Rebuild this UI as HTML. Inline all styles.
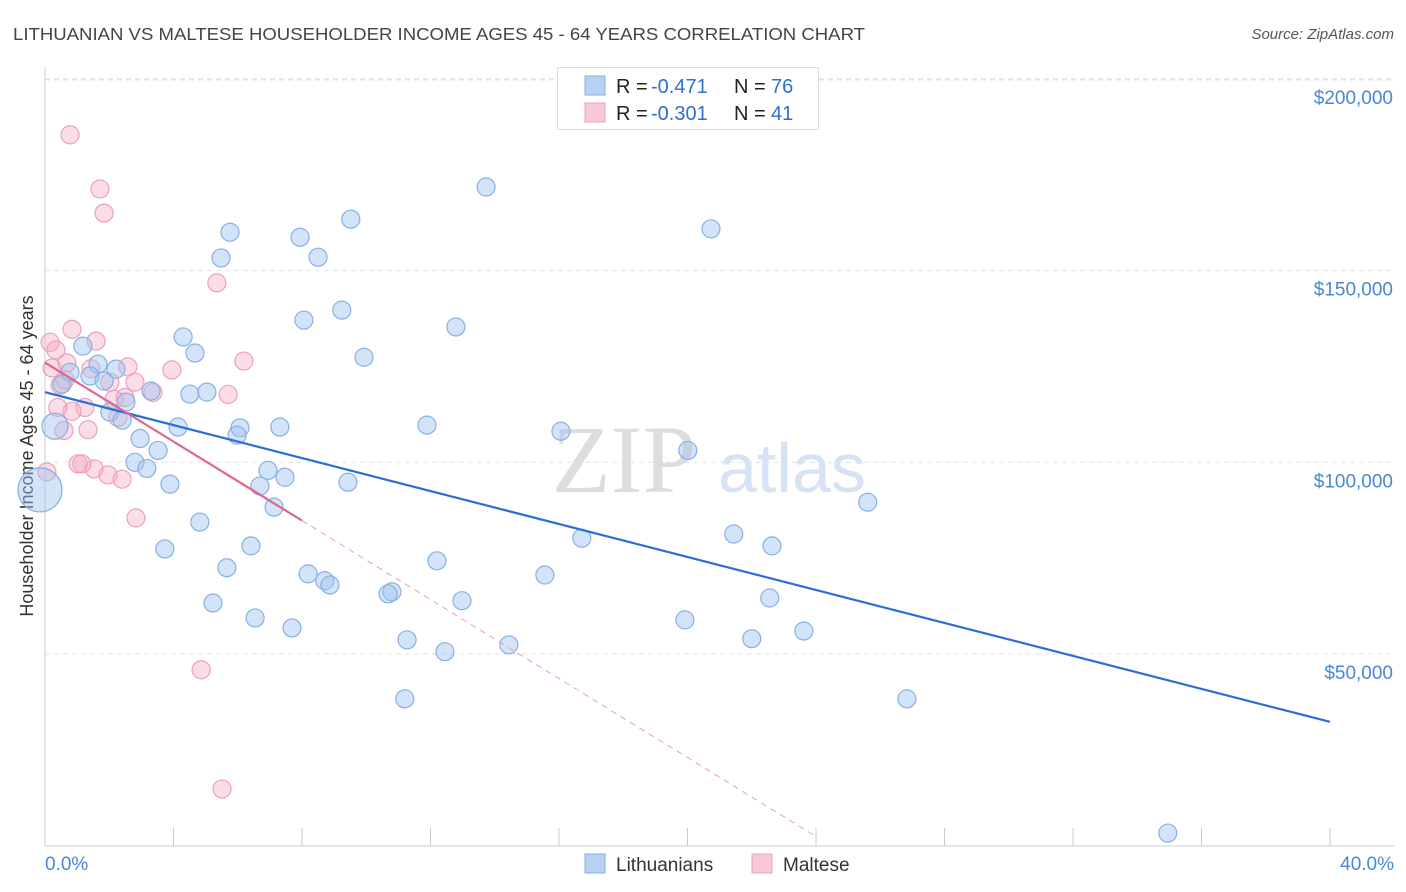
<!DOCTYPE html>
<html><head><meta charset="utf-8"><style>
body{margin:0;background:#fff;font-family:"Liberation Sans",sans-serif}
svg{display:block}
</style></head><body>
<svg id="c" width="1406" height="892"></svg>
<script>
const blueX=[13.73,20.73,9.52,5.76,7.94,8.50,5.48,9.24,8.06,12.79,4.30,9.93,4.67,1.18,1.65,2.21,0.78,1.40,1.84,0.53,3.30,4.51,5.04,2.52,2.02,2.40,4.14,6.07,5.98,7.31,11.89,16.06,0.31,2.96,3.52,20.01,2.80,3.17,6.94,7.47,3.89,6.69,9.43,7.13,25.61,4.82,16.71,21.44,22.63,3.73,6.41,5.66,12.20,8.19,15.56,8.71,8.87,10.80,10.68,22.56,12.98,5.23,6.54,19.92,7.69,23.62,11.27,22.00,14.44,12.45,11.20,26.83,34.95,0];
const blueY=[171.8,160.9,163.4,160.0,158.7,153.5,153.3,139.7,137.1,135.3,132.7,127.4,128.5,130.3,125.6,124.3,123.5,122.5,121.2,120.4,118.6,117.8,118.3,115.7,113.1,111.0,109.2,109.0,107.1,109.2,109.7,108.1,109.4,106.2,103.1,103.1,100.0,98.4,97.9,96.1,94.3,93.8,94.8,88.3,89.6,84.4,80.2,81.3,78.2,77.4,78.2,72.5,74.3,70.9,70.6,69.1,68.0,66.2,65.7,64.6,63.9,63.3,59.4,58.9,56.8,56.0,53.7,54.0,52.4,50.6,38.3,38.3,3.3,92.8];
const pinkX=[0.78,1.71,1.84,5.35,0.84,0.16,1.59,0.34,0.68,2.58,1.43,3.95,0.22,2.02,0.47,2.80,0.62,2.49,3.36,5.70,1.24,0.84,2.27,0.40,0.59,1.34,6.19,1.03,1.53,1.96,2.40,1.15,0.06,2.83,4.86,5.51,2.15];
const pinkY=[185.4,171.3,165.0,146.8,134.7,131.3,131.6,129.3,125.9,124.9,124.4,124.1,124.6,120.9,120.1,120.9,121.5,116.9,118.2,117.7,114.3,113.3,111.7,114.3,108.3,108.5,126.4,99.6,98.3,96.7,95.6,99.6,97.5,85.5,45.9,14.8,116.4];
const yTicks=[50,100,150,200];
const yTickLabels=["$50,000","$100,000","$150,000","$200,000"];
const blueTrend=[118.3,32.3];
const pinkTrend=[126,84.8];
const pinkTrendEndX=24.0;
const X=v=>45+v*32.125, Y=v=>845.7-v*3.834;
const s=document.getElementById('c');const NS='http://www.w3.org/2000/svg';
function el(t,a,p){const e=document.createElementNS(NS,t);for(const k in a)e.setAttribute(k,a[k]);(p||s).appendChild(e);return e;}
function tx(str,a){const e=el('text',a);e.textContent=str;return e;}
let t=tx('LITHUANIAN VS MALTESE HOUSEHOLDER INCOME AGES 45 - 64 YEARS CORRELATION CHART',{x:13,y:40,'font-size':17.5,fill:'#444',textLength:852,lengthAdjust:'spacingAndGlyphs'});

t=tx('Source: ZipAtlas.com',{x:1394,y:39,'font-size':15,fill:'#555','text-anchor':'end','font-style':'italic'});

let g=el('line',{x1:45,x2:1394,y1:Y(200)+1,y2:Y(200)+1,stroke:'#ddd','stroke-dasharray':'5,4'});

yTicks.forEach((v,i)=>{const l=el('line',{x1:45,x2:1394,y1:Y(v),y2:Y(v),stroke:'#e3e3e3','stroke-dasharray':'5,4'});

const e=tx(yTickLabels[i],{x:1393,y:Y(v)+25,'font-size':19,fill:'#4a86d8','text-anchor':'end'});
});
let a=el('line',{x1:45,x2:45,y1:67,y2:846,stroke:'#ccc'});
a=el('line',{x1:45,x2:1394,y1:846,y2:846,stroke:'#ccc'});
for(let i=0;i<=10;i++){const l=el('line',{x1:X(i*4),x2:X(i*4),y1:828,y2:846,stroke:'#ccc'});}
t=tx('0.0%',{x:45,y:870,'font-size':19,fill:'#4a86d8'});
t=tx('40.0%',{x:1394,y:870,'font-size':19,fill:'#4a86d8','text-anchor':'end'});
t=tx('Householder Income Ages 45 - 64 years',{x:33,y:456,'font-size':18,fill:'#333','text-anchor':'middle',transform:'rotate(-90 33 456)'});

t=tx('ZIP',{x:552,y:492,'font-size':96,fill:'#ddd','font-family':'Liberation Serif'});
t=tx('atlas',{x:718,y:492,'font-size':70,fill:'#d5e3f5'});
pinkX.forEach((v,i)=>{const c=el('circle',{cx:X(v),cy:Y(pinkY[i]),r:9,fill:'rgba(245,170,195,0.4)',stroke:'#eea0b8','stroke-width':1.2});
});
blueX.forEach((v,i)=>{const big=i===blueX.length-1;const c=el('circle',{cx:X(v)-(big?5:0),cy:Y(blueY[i]),r:big?22:(i===32?13:9),fill:'rgba(160,195,240,0.45)',stroke:'#86b0e6','stroke-width':1.2});
});
let l=el('line',{x1:X(0),y1:Y(blueTrend[0]),x2:X(40),y2:Y(blueTrend[1]),stroke:'#2a6fd6','stroke-width':2.2});

const slope=(pinkTrend[1]-pinkTrend[0])/8;
l=el('line',{x1:X(0),y1:Y(pinkTrend[0]),x2:X(8),y2:Y(pinkTrend[1]),stroke:'#e06590','stroke-width':2.2});

l=el('line',{x1:X(8),y1:Y(pinkTrend[1]),x2:X(pinkTrendEndX),y2:Y(pinkTrend[0]+slope*pinkTrendEndX),stroke:'#e8a0b8','stroke-width':1,'stroke-dasharray':'6,5'});

const lg=el('g',{});
el('rect',{x:557.5,y:67.5,width:261,height:62,fill:'#fff',stroke:'#ddd'},lg);
el('rect',{x:585,y:76,width:20,height:19,fill:'#b8d2f4',stroke:'#86b0e6'},lg);
el('rect',{x:585,y:103,width:20,height:19,fill:'#f9c8d6',stroke:'#eea0b8'},lg);
[['-0.471','76',93],['-0.301','41',120]].forEach(r=>{
const e1=el('text',{x:616,y:r[2],'font-size':20,fill:'#222'},lg);e1.textContent='R = ';
const e2=el('text',{x:651,y:r[2],'font-size':20,fill:'#2f6fd0'},lg);e2.textContent=r[0];
const e3=el('text',{x:734,y:r[2],'font-size':20,fill:'#222'},lg);e3.textContent='N = ';
const e4=el('text',{x:771,y:r[2],'font-size':20,fill:'#2f6fd0'},lg);e4.textContent=r[1];});
const bl=el('g',{});
el('rect',{x:585,y:854,width:20,height:19,fill:'#b8d2f4',stroke:'#86b0e6'},bl);
let e=el('text',{x:616,y:871,'font-size':19,fill:'#333'},bl);e.textContent='Lithuanians';
el('rect',{x:752,y:854,width:20,height:19,fill:'#f9c8d6',stroke:'#eea0b8'},bl);
e=el('text',{x:783,y:871,'font-size':19,fill:'#333'},bl);e.textContent='Maltese';
</script>
</body></html>
